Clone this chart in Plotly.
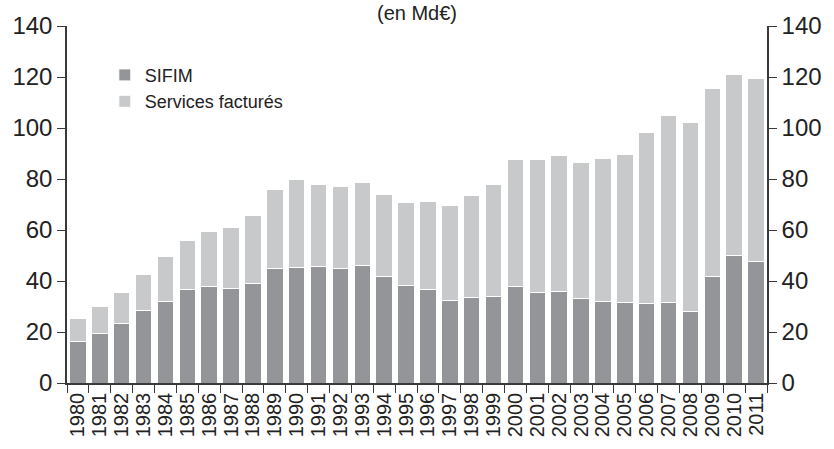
import plotly.graph_objects as go

years = [str(y) for y in range(1980, 2012)]
sifim = [16.4, 19.3, 23.2, 28.3, 31.8, 36.5, 37.9, 36.9, 39.0, 45.0, 45.3, 45.8, 44.9, 46.2, 41.7, 38.3,
         36.7, 32.3, 33.6, 33.9, 37.8, 35.3, 35.7, 33.3, 32.1, 31.6, 31.3, 31.4, 27.9, 41.7, 50.0, 47.8]
total = [25.3, 30.1, 35.4, 42.5, 49.6, 55.8, 59.3, 60.9, 65.7, 75.7, 79.9, 77.9, 77.0, 78.5, 74.1, 70.6,
         71.3, 69.8, 73.7, 78.0, 87.8, 87.8, 89.2, 86.6, 88.2, 89.8, 98.2, 104.9, 102.2, 115.5, 120.9, 119.4]
services = [round(t - s, 1) for t, s in zip(total, sifim)]
y_ticks = [0, 20, 40, 60, 80, 100, 120, 140]

FONT = "Liberation Sans, Arial, sans-serif"
AXC = "#3a3a3a"

fig = go.Figure()
fig.add_trace(go.Bar(x=years, y=sifim, name="SIFIM", marker=dict(color="#939598", line=dict(color="white", width=1))))
fig.add_trace(go.Bar(x=years, y=services, name="Services facturés", marker=dict(color="#c8c9cb", line=dict(color="white", width=1))))
fig.add_trace(go.Scatter(x=years, y=total, yaxis="y2", mode="markers", marker=dict(opacity=0),
                         showlegend=False, hoverinfo="skip"))

fig.update_layout(
    width=834, height=449,
    barmode="stack", bargap=0.25,
    plot_bgcolor="white", paper_bgcolor="white",
    margin=dict(l=62, r=57, t=25, b=65),
    font=dict(family=FONT, color="#222"),
    showlegend=True,
    legend=dict(x=0.054, y=0.914, xanchor="left", yanchor="top", bgcolor="rgba(0,0,0,0)",
                font=dict(size=18, family=FONT, color="#222"), tracegroupgap=0, traceorder="normal"),
    xaxis=dict(type="category", range=[-0.5, 31.5], tickmode="array", tickvals=years, ticktext=years,
               showline=True, linecolor=AXC, linewidth=1.5,
               ticks="outside", tickson="boundaries", ticklen=8, tickcolor=AXC, tickwidth=1,
               tickangle=-90, tickfont=dict(size=20, family=FONT, color="#222"), showgrid=False),
    yaxis=dict(range=[0, 140], tickvals=y_ticks, showline=True, linecolor=AXC, linewidth=1.5,
               ticks="outside", ticklen=8, tickcolor=AXC, tickwidth=1, showgrid=False, zeroline=False,
               tickfont=dict(size=24, family=FONT, color="#222")),
    yaxis2=dict(range=[0, 140], tickvals=y_ticks, overlaying="y", side="right", showline=True,
                linecolor=AXC, linewidth=1.5, ticks="outside", ticklen=8, tickcolor=AXC, tickwidth=1,
                showgrid=False, zeroline=False, tickfont=dict(size=24, family=FONT, color="#222")),
    annotations=[dict(text="(en Md€)", x=0.5, xref="paper", y=1.0, yref="paper", yanchor="bottom",
                      xanchor="center", showarrow=False, font=dict(size=20, family=FONT, color="#222"))],
)

fig.write_html("out.html")
